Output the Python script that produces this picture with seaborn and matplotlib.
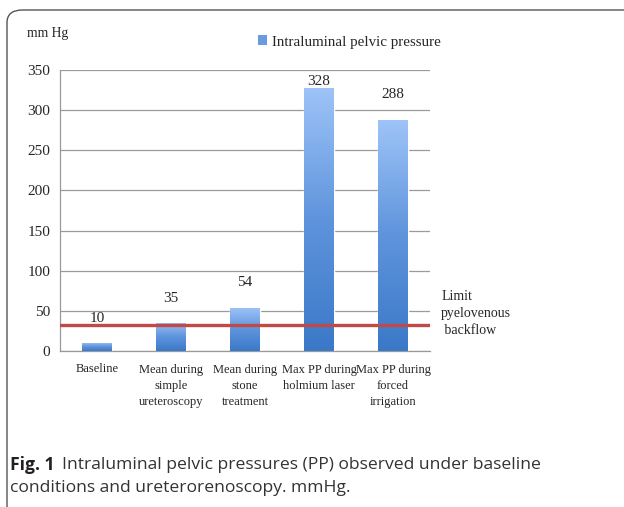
"""
Intraluminal pelvic pressure bar chart (Fig. 1)
"""

import numpy as np
import pandas as pd
import matplotlib
matplotlib.use('Agg')
import matplotlib.pyplot as plt
import seaborn as sns
from matplotlib.colors import LinearSegmentedColormap
from matplotlib.patches import Patch, FancyBboxPatch
from matplotlib.transforms import blended_transform_factory

# data
categories = ['Baseline', 'Mean during\nsimple\nureteroscopy', 'Mean during\nstone\ntreatment',
              'Max PP during\nholmium laser', 'Max PP during\nforced\nirrigation']
pressures = [10, 35, 54, 328, 288]
limit_backflow = 33
y_ticks = [0, 50, 100, 150, 200, 250, 300, 350]
series_name = 'Intraluminal pelvic pressure'

sns.set_theme(style='white')
plt.rcParams['font.family'] = ['Liberation Serif', 'DejaVu Serif']

df = pd.DataFrame({'cat': categories, 'val': pressures})

fig = plt.figure(figsize=(6.24, 5.07), dpi=100)
ax = fig.add_axes([60 / 624, 1 - 351 / 507, 370 / 624, 281 / 507])

sns.barplot(data=df, x='cat', y='val', color='#6A9BE0', width=0.4, ax=ax,
            saturation=1, zorder=3)

# gradient fill of the bars, light on top
cmap = LinearSegmentedColormap.from_list('bar', ['#3A79C8', '#5F94DC', '#9EC4F8'])
grad = np.linspace(0, 1, 256).reshape(-1, 1)
for p in list(ax.patches):
    x0, y0 = p.get_x(), p.get_y()
    w, h = p.get_width(), p.get_height()
    im = ax.imshow(grad, extent=[x0, x0 + w, y0, y0 + h], origin='lower',
                   cmap=cmap, aspect='auto', zorder=4)
    im.set_clip_path(p)

ax.set_xlim(-0.5, len(categories) - 0.5)
ax.set_ylim(0, 350)
ax.set_yticks(y_ticks)
ax.set_xlabel('')
ax.set_ylabel('')

# grid + axes styling
ax.grid(axis='y', color='#9A9A9A', linewidth=0.9, zorder=1)
ax.set_axisbelow(True)
for s in ['top', 'right']:
    ax.spines[s].set_visible(False)
for s in ['left', 'bottom']:
    ax.spines[s].set_color('#9A9A9A')
    ax.spines[s].set_linewidth(0.9)
ax.tick_params(axis='y', length=4, color='#9A9A9A', width=0.9, labelsize=11, pad=3)
ax.tick_params(axis='x', which='major', length=0, labelsize=9, pad=9)
ax.set_xticks(np.arange(-0.5, len(categories)), minor=True)
ax.tick_params(axis='x', which='minor', length=5, color='#9A9A9A', width=0.9, direction='out')
for lab in ax.get_xticklabels():
    lab.set_linespacing(1.45)
    lab.set_verticalalignment('top')

# value labels (Excel keeps the top one inside the plot area)
label_y = np.minimum(np.array(pressures) + 31, 336)
for i, (v, ly) in enumerate(zip(pressures, label_y)):
    ax.text(i, ly, str(v), ha='center', va='center', fontsize=11, zorder=6)

# pyelovenous backflow limit
ax.axhline(limit_backflow, color='#BF4A47', linewidth=2.4, zorder=5)
tr = blended_transform_factory(ax.transAxes, ax.transData)
ax.text(1.03, 47, 'Limit\npyelovenous\n backflow', transform=tr, ha='left',
        va='center', fontsize=10, linespacing=1.38)

# legend and unit label
leg_handle = Patch(facecolor='#6A9BE0', edgecolor='none', label=series_name)
fig.legend(handles=[leg_handle], loc='center left', bbox_to_anchor=(252 / 624, 1 - 42 / 507),
           frameon=False, fontsize=10.8, handlelength=0.6, handleheight=0.6,
           handletextpad=0.3, borderaxespad=0)
fig.text(27 / 624, 1 - 33 / 507, 'mm Hg', ha='left', va='center', fontsize=9.8)

# outer frame
frame = FancyBboxPatch((7 / 624, -0.05), 1.1, 1 - 10 / 507 + 0.05,
                       boxstyle='round,pad=0,rounding_size=0.025',
                       transform=fig.transFigure, facecolor='none',
                       edgecolor='#555555', linewidth=1.0)
fig.patches.append(frame)

# caption
cap_font = ['Open Sans', 'DejaVu Sans']
t1 = fig.text(10 / 624, 1 - 465 / 507, 'Fig. 1', ha='left', va='center',
              fontsize=12.6, fontweight='bold', family=cap_font, color='#231F20')
fig.canvas.draw()
bb = t1.get_window_extent()
fig.text((bb.x1 + 8) / 624, 1 - 465 / 507,
         'Intraluminal pelvic pressures (PP) observed under baseline',
         ha='left', va='center', fontsize=12.6, family=cap_font, color='#333333')
fig.text(10 / 624, 1 - 488 / 507, 'conditions and ureterorenoscopy. mmHg.',
         ha='left', va='center', fontsize=12.6, family=cap_font, color='#333333')

fig.savefig('out.png', dpi=100)
